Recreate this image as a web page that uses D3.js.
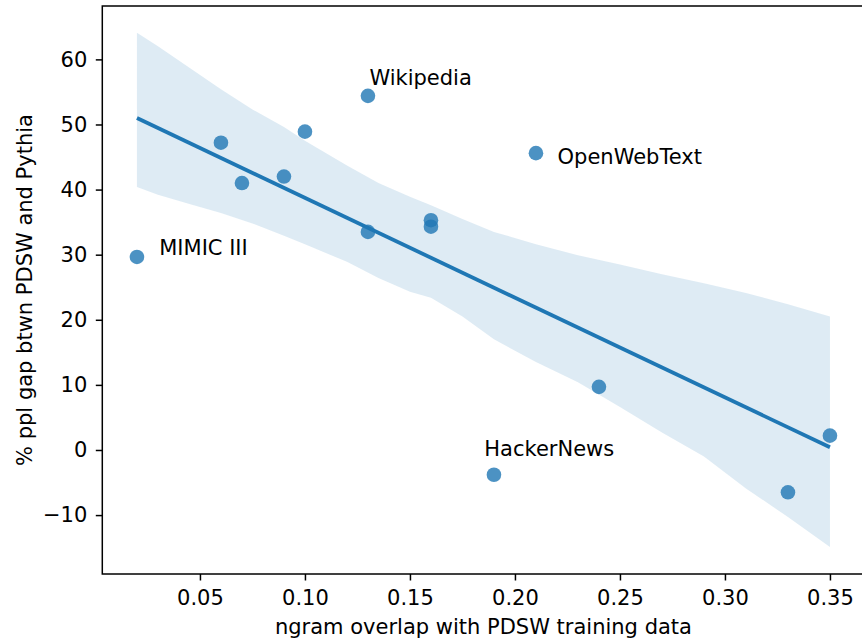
<!DOCTYPE html>
<html><head><meta charset="utf-8">
<script src="https://cdn.jsdelivr.net/npm/d3@7"></script>
<style>
html,body{margin:0;padding:0;background:#fff;}
svg{display:block;font-family:"DejaVu Sans",sans-serif;}
</style></head>
<body>
<svg id="chart" width="862" height="642"></svg>
<script>
// ---- data ----
const overlap = [0.02, 0.06, 0.07, 0.09, 0.10, 0.13, 0.13, 0.16, 0.16, 0.21, 0.19, 0.24, 0.33, 0.35];
const pplGap  = [29.65, 47.2, 41.0, 42.0, 48.9, 54.4, 33.5, 35.3, 34.3, 45.6, -3.8, 9.7, -6.5, 2.2];
const labelNames = ["MIMIC III", "Wikipedia", "OpenWebText", "HackerNews"];
const labelX = [0.0306, 0.1307, 0.2203, 0.1854];
const labelY = [29.9, 56.1, 44.0, -1.0];
// bootstrap confidence band
const bandX     = [0.02, 0.03, 0.045, 0.06, 0.075, 0.09, 0.10, 0.12, 0.135, 0.15, 0.16, 0.175, 0.19, 0.21, 0.23, 0.25, 0.27, 0.29, 0.31, 0.33, 0.35];
const bandUpper = [64.1, 62.0, 58.7, 55.4, 52.3, 49.6, 47.5, 43.7, 41.0, 38.9, 37.6, 35.5, 33.5, 31.6, 29.9, 28.5, 27.0, 25.6, 24.1, 22.4, 20.5];
const bandLower = [40.4, 39.2, 37.8, 36.4, 34.8, 32.9, 31.6, 28.9, 26.4, 24.3, 23.4, 20.5, 17.0, 13.5, 10.4, 6.6, 2.7, -1.0, -5.9, -10.3, -14.9];
const xTicks = [0.05, 0.10, 0.15, 0.20, 0.25, 0.30, 0.35];
const yTicks = [-10, 0, 10, 20, 30, 40, 50, 60];
const xTitle = "ngram overlap with PDSW training data";
const yTitle = "% ppl gap btwn PDSW and Pythia";

// ---- layout ----
const L = 102.3, R = 864.6, T = 6, B = 574;
const color = "#1f77b4";
const fs = 21;
const svg = d3.select("#chart");

const x = d3.scaleLinear().domain([0.0035, 0.3665]).range([L, R]);
const y = d3.scaleLinear().domain([-19.05, 68.2]).range([B, T]);

// regression (OLS)
const n = overlap.length;
const mx = d3.mean(overlap), my = d3.mean(pplGap);
let sxy = 0, sxx = 0;
for (let i = 0; i < n; i++) { sxy += (overlap[i]-mx)*(pplGap[i]-my); sxx += (overlap[i]-mx)**2; }
const slope = sxy / sxx, icpt = my - slope*mx;
const xmin = d3.min(overlap), xmax = d3.max(overlap);

// band
const bandData = bandX.map((v,i)=>({x:v, lo:bandLower[i], hi:bandUpper[i]}));
svg.append("path").datum(bandData)
  .attr("d", d3.area().x(d=>x(d.x)).y0(d=>y(d.lo)).y1(d=>y(d.hi)))
  .attr("fill", color).attr("fill-opacity", 0.15).attr("stroke", "none");

// points
svg.append("g").selectAll("circle").data(overlap.map((v,i)=>[v,pplGap[i]])).join("circle")
  .attr("cx", d=>x(d[0])).attr("cy", d=>y(d[1])).attr("r", 7.3)
  .attr("fill", color).attr("fill-opacity", 0.8);

// regression line
svg.append("line")
  .attr("x1", x(xmin)).attr("y1", y(icpt + slope*xmin))
  .attr("x2", x(xmax)).attr("y2", y(icpt + slope*xmax))
  .attr("stroke", color).attr("stroke-width", 3.8);

// annotations
svg.append("g").selectAll("text").data(labelNames).join("text")
  .attr("x", (d,i)=>x(labelX[i])).attr("y", (d,i)=>y(labelY[i]))
  .attr("font-size", fs).attr("fill", "#000").text(d=>d);

// axes
const gx = svg.append("g").attr("transform", `translate(0,${B})`)
  .call(d3.axisBottom(x).tickValues(xTicks).tickFormat(d3.format(".2f")).tickSize(6.5).tickPadding(9.5).tickSizeOuter(0));
const gy = svg.append("g").attr("transform", `translate(${L},0)`)
  .call(d3.axisLeft(y).tickValues(yTicks).tickFormat(d3.format("d")).tickSize(6.5).tickPadding(8.5).tickSizeOuter(0));
[gx, gy].forEach(g=>{
  g.selectAll("text").attr("font-size", fs).attr("font-family", "DejaVu Sans").attr("fill", "#000");
  g.selectAll("line").attr("stroke", "#000").attr("stroke-width", 1.5);
  g.select(".domain").remove();
});

// spines
const sp = svg.append("g").attr("stroke", "#000").attr("stroke-width", 1.5).attr("fill", "none");
sp.append("rect").attr("x", L).attr("y", T).attr("width", R-L).attr("height", B-T);

// titles
svg.append("text").attr("x", (L+R)/2).attr("y", 634).attr("text-anchor", "middle")
  .attr("font-size", fs).text(xTitle);
svg.append("text").attr("transform", `translate(32,${(T+B)/2}) rotate(-90)`).attr("text-anchor", "middle")
  .attr("font-size", fs).text(yTitle);
</script>
</body></html>
